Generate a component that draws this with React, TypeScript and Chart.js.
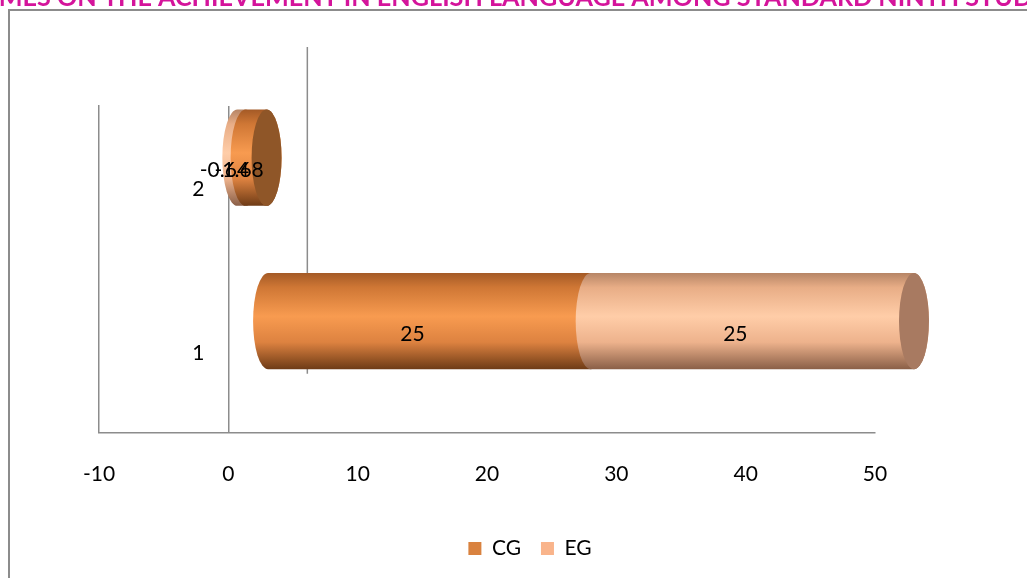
import React, { useEffect, useRef } from 'react';
import { Chart, registerables } from 'chart.js';

Chart.register(...registerables);

// ---------- data ----------
const categories = ['1', '2'];
const seriesNames = ['CG', 'EG'];
const cgValues = [25, -1.68];
const egValues = [25, -0.64];
const xTickValues = [-10, 0, 10, 20, 30, 40, 50];
const titleText =
  'EFFECTIVENESS OF LANGUAGE GAMES ON THE ACHIEVEMENT IN ENGLISH LANGUAGE AMONG STANDARD NINTH STUDENTS';

// ---------- style ----------
const FONT = 'Lato, "Open Sans", sans-serif';
const GRAY = '#8c8c8c';
const TITLE_COLOR = '#D4149B';
const legendColors: Record<string, string> = { CG: '#D9823F', EG: '#F9B48B' };
const capColors: Record<string, string> = { CG: '#8F5628', EG: '#A87A61' };
const bodyStops: Record<string, [number, string][]> = {
  CG: [
    [0, '#A45A26'],
    [0.15, '#CF7735'],
    [0.45, '#F89B50'],
    [0.72, '#DD8240'],
    [1, '#6E3B16'],
  ],
  EG: [
    [0, '#B68566'],
    [0.15, '#E8AD86'],
    [0.45, '#FFCDA8'],
    [0.72, '#EDB28C'],
    [1, '#8A5F47'],
  ],
};
const DEPTH_X = 79;
const DEPTH_Y = -59;
const BAR_DX = 39;
const BAR_DY = -30;
const LABEL_DX = 22;
const LABEL_DY = -17;
const CAP_RX = 15;
const LEGEND_CX = 530;
const LEGEND_TOP = 518;
const CAT_LABEL_GAP = 24;

function drawBody(ctx: CanvasRenderingContext2D, s: any) {
  const top = s.cy - s.h / 2;
  const bot = s.cy + s.h / 2;
  const g = ctx.createLinearGradient(0, top, 0, bot);
  bodyStops[s.name].forEach(([o, c]) => g.addColorStop(o, c));
  ctx.beginPath();
  ctx.moveTo(s.l, top);
  ctx.lineTo(s.r, top);
  ctx.ellipse(s.r, s.cy, CAP_RX, s.h / 2, 0, -Math.PI / 2, Math.PI / 2);
  ctx.lineTo(s.l, bot);
  ctx.ellipse(s.l, s.cy, CAP_RX, s.h / 2, 0, Math.PI / 2, Math.PI * 1.5);
  ctx.closePath();
  ctx.fillStyle = g;
  ctx.fill();
}

const decorPlugin = {
  id: 'decor',
  beforeDraw(chart: any) {
    const ctx = chart.ctx as CanvasRenderingContext2D;
    ctx.save();
    // outer frame
    ctx.strokeStyle = GRAY;
    ctx.lineWidth = 2;
    ctx.beginPath();
    ctx.moveTo(9, chart.height);
    ctx.lineTo(9, 10);
    ctx.lineTo(chart.width, 10);
    ctx.stroke();
    // title (cut off at top)
    const idx = titleText.indexOf('ON THE ACHIEVEMENT');
    const ref = 'ON THE ACHIEVEMENT IN ENGLISH LANGUAGE AMONG ';
    ctx.font = `bold 100px ${FONT}`;
    const size = (100 * 680) / ctx.measureText(ref).width;
    ctx.font = `bold ${size}px ${FONT}`;
    const pre = ctx.measureText(titleText.slice(0, idx)).width;
    ctx.fillStyle = TITLE_COLOR;
    ctx.textBaseline = 'alphabetic';
    ctx.textAlign = 'left';
    ctx.fillText(titleText, 57 - pre, 6);
    ctx.restore();
  },
  beforeDatasetsDraw(chart: any) {
    const ctx = chart.ctx as CanvasRenderingContext2D;
    const { top, bottom } = chart.chartArea;
    const x0 = chart.scales.x.getPixelForValue(0);
    ctx.save();
    ctx.strokeStyle = GRAY;
    ctx.lineWidth = 1.5;
    ctx.beginPath();
    ctx.moveTo(x0 + DEPTH_X, top + DEPTH_Y);
    ctx.lineTo(x0 + DEPTH_X, bottom + DEPTH_Y);
    ctx.stroke();
    // category labels, left of the zero line
    ctx.font = `21px ${FONT}`;
    ctx.fillStyle = '#000';
    ctx.textAlign = 'right';
    ctx.textBaseline = 'middle';
    const ys = chart.scales.y;
    categories.forEach((c, i) => {
      ctx.fillText(c, x0 - CAT_LABEL_GAP, ys.getPixelForValue(i) + 2);
    });
    ctx.restore();
  },
  beforeDatasetDraw() {
    return false;
  },
  afterDatasetsDraw(chart: any) {
    const ctx = chart.ctx as CanvasRenderingContext2D;
    const n = chart.data.labels.length;
    const labels: any[] = [];
    ctx.save();
    for (let i = 0; i < n; i++) {
      const segs: any[] = [];
      chart.data.datasets.forEach((ds: any, di: number) => {
        const el = chart.getDatasetMeta(di).data[i];
        if (!el) return;
        const { x, y, base, height } = el.getProps(['x', 'y', 'base', 'height'], true);
        segs.push({
          l: Math.min(x, base) + BAR_DX,
          r: Math.max(x, base) + BAR_DX,
          cy: y + BAR_DY,
          h: height,
          name: ds.label,
        });
        labels.push({ x: (x + base) / 2 + LABEL_DX, y: y + LABEL_DY, text: String(ds.data[i]) });
      });
      segs.sort((a, b) => a.l - b.l);
      segs.forEach((s) => drawBody(ctx, s));
      const last = segs.reduce((m, s) => (s.r > m.r ? s : m), segs[0]);
      ctx.beginPath();
      ctx.ellipse(last.r, last.cy, CAP_RX, last.h / 2, 0, 0, Math.PI * 2);
      ctx.fillStyle = capColors[last.name];
      ctx.fill();
    }
    ctx.font = `21px ${FONT}`;
    ctx.fillStyle = '#000';
    ctx.textAlign = 'center';
    ctx.textBaseline = 'middle';
    labels.forEach((lb) => ctx.fillText(lb.text, lb.x, lb.y));
    ctx.restore();
  },
  afterLayout(chart: any) {
    const L = chart.legend;
    if (!L) return;
    const dx = LEGEND_CX - (L.left + L.right) / 2;
    const dy = LEGEND_TOP - L.top;
    L.left += dx;
    L.right += dx;
    L.top += dy;
    L.bottom += dy;
  },
};

export default function App() {
  const ref = useRef<HTMLCanvasElement | null>(null);
  useEffect(() => {
    if (!ref.current) return;
    const chart = new Chart(ref.current, {
      type: 'bar',
      data: {
        labels: categories,
        datasets: [
          { label: seriesNames[0], data: cgValues, backgroundColor: legendColors.CG, borderWidth: 0 },
          { label: seriesNames[1], data: egValues, backgroundColor: legendColors.EG, borderWidth: 0 },
        ],
      },
      options: {
        indexAxis: 'y',
        responsive: false,
        animation: false,
        maintainAspectRatio: false,
        layout: { padding: { left: 99, right: 152, top: 106, bottom: 11 } },
        datasets: { bar: { barPercentage: 0.589, categoryPercentage: 1 } },
        plugins: {
          title: { display: false },
          tooltip: { enabled: false },
          legend: {
            display: true,
            position: 'bottom',
            labels: {
              boxWidth: 13,
              boxHeight: 13,
              padding: 20,
              color: '#000',
              font: { family: FONT, size: 21 },
            },
          },
        },
        scales: {
          x: {
            type: 'linear',
            stacked: true,
            min: -10,
            max: 50,
            afterBuildTicks: (axis: any) => {
              axis.ticks = xTickValues.map((v) => ({ value: v }));
            },
            ticks: { color: '#000', font: { family: FONT, size: 21 }, padding: 29 },
            grid: {
              drawTicks: false,
              lineWidth: 1.5,
              color: (c: any) => (c.tick && c.tick.value === 0 ? GRAY : 'rgba(0,0,0,0)'),
            },
            border: { color: GRAY, width: 1.5 },
          },
          y: {
            type: 'category',
            stacked: true,
            reverse: true,
            position: 'left',
            afterFit: (s: any) => {
              s.width = 0;
            },
            ticks: { display: false },
            grid: { drawTicks: false, color: 'rgba(0,0,0,0)' },
            border: { color: GRAY, width: 1.5 },
          },
        },
      },
      plugins: [decorPlugin],
    } as any);
    return () => chart.destroy();
  }, []);
  return (
    <div style={{ position: 'absolute', left: 0, top: 0, width: 1027, height: 578, background: '#fff' }}>
      <canvas ref={ref} width={1027} height={578} style={{ display: 'block' }} />
    </div>
  );
}
